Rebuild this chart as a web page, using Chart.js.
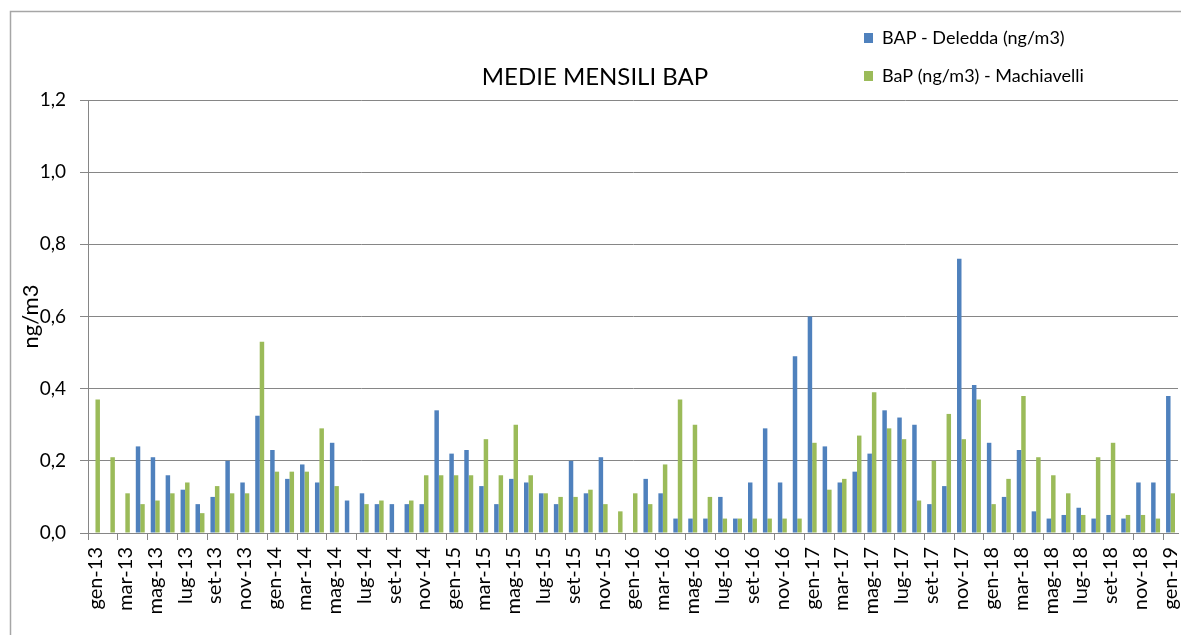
<!DOCTYPE html>
<html>
<head>
<meta charset="utf-8">
<script src="https://cdn.jsdelivr.net/npm/chart.js@4/dist/chart.umd.min.js"></script>
<style>
  html, body { margin: 0; padding: 0; background: #fff; }
</style>
</head>
<body>
<canvas id="bapChart" width="1181" height="635"></canvas>
<script>
// monthly categories, gen-13 .. gen-19
const categories = [
  "gen-13", "feb-13", "mar-13", "apr-13", "mag-13", "giu-13", "lug-13", "ago-13", "set-13", "ott-13", "nov-13", "dic-13",
  "gen-14", "feb-14", "mar-14", "apr-14", "mag-14", "giu-14", "lug-14", "ago-14", "set-14", "ott-14", "nov-14", "dic-14",
  "gen-15", "feb-15", "mar-15", "apr-15", "mag-15", "giu-15", "lug-15", "ago-15", "set-15", "ott-15", "nov-15", "dic-15",
  "gen-16", "feb-16", "mar-16", "apr-16", "mag-16", "giu-16", "lug-16", "ago-16", "set-16", "ott-16", "nov-16", "dic-16",
  "gen-17", "feb-17", "mar-17", "apr-17", "mag-17", "giu-17", "lug-17", "ago-17", "set-17", "ott-17", "nov-17", "dic-17",
  "gen-18", "feb-18", "mar-18", "apr-18", "mag-18", "giu-18", "lug-18", "ago-18", "set-18", "ott-18", "nov-18", "dic-18",
  "gen-19"
];

// BAP - Deledda (ng/m3)
const deledda = [
  null, null, null, 0.24, 0.21, 0.16, 0.12, 0.08, 0.10, 0.20, 0.14, 0.325,
  0.23, 0.15, 0.19, 0.14, 0.25, 0.09, 0.11, 0.08, 0.08, 0.08, 0.08, 0.34,
  0.22, 0.23, 0.13, 0.08, 0.15, 0.14, 0.11, 0.08, 0.20, 0.11, 0.21, null,
  null, 0.15, 0.11, 0.04, 0.04, 0.04, 0.10, 0.04, 0.14, 0.29, 0.14, 0.49,
  0.60, 0.24, 0.14, 0.17, 0.22, 0.34, 0.32, 0.30, 0.08, 0.13, 0.76, 0.41,
  0.25, 0.10, 0.23, 0.06, 0.04, 0.05, 0.07, 0.04, 0.05, 0.04, 0.14, 0.14,
  0.38
];

// BaP (ng/m3) - Machiavelli
const machiavelli = [
  0.37, 0.21, 0.11, 0.08, 0.09, 0.11, 0.14, 0.055, 0.13, 0.11, 0.11, 0.53,
  0.17, 0.17, 0.17, 0.29, 0.13, null, 0.08, 0.09, null, 0.09, 0.16, 0.16,
  0.16, 0.16, 0.26, 0.16, 0.30, 0.16, 0.11, 0.10, 0.10, 0.12, 0.08, 0.06,
  0.11, 0.08, 0.19, 0.37, 0.30, 0.10, 0.04, 0.04, 0.04, 0.04, 0.04, 0.04,
  0.25, 0.12, 0.15, 0.27, 0.39, 0.29, 0.26, 0.09, 0.20, 0.33, 0.26, 0.37,
  0.08, 0.15, 0.38, 0.21, 0.16, 0.11, 0.05, 0.21, 0.25, 0.05, 0.05, 0.04,
  0.11
];

const GRID = "#868686";
const FONT = "Lato";

// frame, title and the two-line legend (Excel style, top right)
const decor = {
  id: "decor",
  beforeDraw(chart) {
    const c = chart.ctx;
    c.save();
    c.fillStyle = "#fff";
    c.fillRect(0, 0, chart.width, chart.height);
    c.strokeStyle = "#a6a6a6";
    c.lineWidth = 1.5;
    c.beginPath();
    c.moveTo(10.5, chart.height);
    c.lineTo(10.5, 11.5);
    c.lineTo(chart.width, 11.5);
    c.stroke();
    c.restore();
  },
  afterDraw(chart) {
    const c = chart.ctx;
    c.save();
    c.fillStyle = "#000";
    c.textBaseline = "middle";
    c.textAlign = "center";
    c.font = "24px " + FONT;
    c.fillText("MEDIE MENSILI BAP", 595, 77);

    c.textAlign = "left";
    c.font = "18px " + FONT;
    chart.data.datasets.forEach((ds, i) => {
      const y = 38 + i * 38;
      c.fillStyle = ds.backgroundColor;
      c.fillRect(864, y - 5, 9, 10);
      c.fillStyle = "#000";
      c.fillText(ds.label, 882, y);
    });
    c.restore();
  }
};

new Chart(document.getElementById("bapChart"), {
  type: "bar",
  data: {
    labels: categories,
    datasets: [
      { label: "BAP - Deledda (ng/m3)", data: deledda, backgroundColor: "#4F81BD" },
      { label: "BaP (ng/m3) - Machiavelli", data: machiavelli, backgroundColor: "#9BBB59" }
    ]
  },
  options: {
    responsive: false,
    animation: false,
    layout: { padding: { top: 100, right: 3, left: 0, bottom: 0 } },
    datasets: { bar: { categoryPercentage: 0.6, barPercentage: 1.0 } },
    plugins: {
      legend: { display: false },
      title: { display: false },
      tooltip: { enabled: false }
    },
    scales: {
      x: {
        grid: {
          drawOnChartArea: false,
          offset: true,
          tickLength: 7,
          color: ctx => (ctx.index % 2 === 0 ? GRID : "rgba(0,0,0,0)")
        },
        border: { color: GRID },
        ticks: {
          autoSkip: false,
          maxRotation: 90,
          minRotation: 90,
          padding: 7,
          color: "#000",
          font: { family: FONT, size: 20 },
          callback: (v, i) => (i % 2 === 0 ? categories[i] : "")
        },
        afterFit: s => {
          s.height = 102;
          s.paddingLeft = 0;
          s.paddingRight = 0;
        }
      },
      y: {
        min: 0,
        max: 1.2,
        ticks: {
          stepSize: 0.2,
          padding: 14,
          color: "#000",
          font: { family: FONT, size: 19 },
          callback: v => v.toFixed(1).replace(".", ",")
        },
        grid: { color: GRID, tickLength: 8 },
        border: { color: GRID },
        title: {
          display: true,
          text: "ng/m3",
          color: "#000",
          font: { family: FONT, size: 22 },
          padding: { top: 18, bottom: 0 }
        },
        afterFit: s => { s.width = 88; }
      }
    }
  },
  plugins: [decor]
});
</script>
</body>
</html>
